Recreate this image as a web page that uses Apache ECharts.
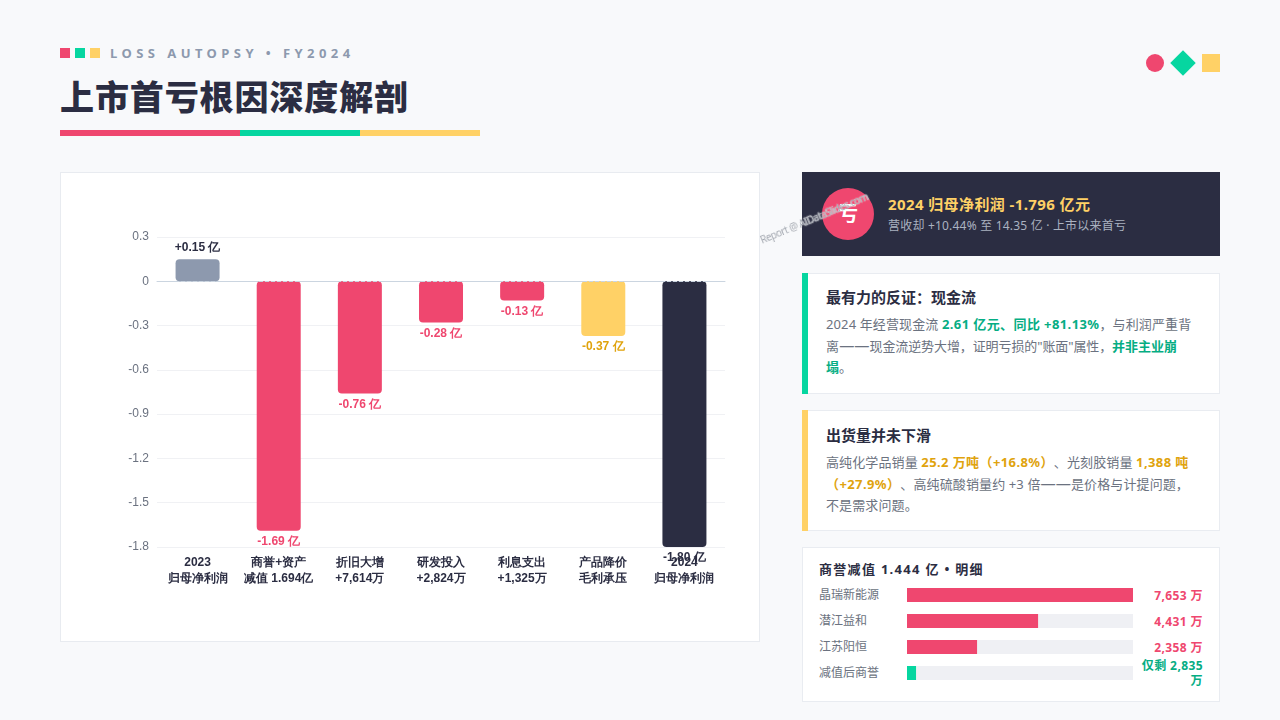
<!DOCTYPE html>
<html lang="zh"><head><meta charset="utf-8">
<script src="https://cdn.jsdelivr.net/npm/echarts@6/dist/echarts.min.js"></script>
<style>
*{box-sizing:border-box;margin:0;padding:0}
html,body{width:1280px;height:720px;overflow:hidden;background:#f8f9fb;font-family:"Noto Sans","Noto Sans CJK SC",sans-serif}
.abs{position:absolute}
.card{position:absolute;left:802px;width:418px;background:#fff;border:1px solid #e9ecf1}
.accent{position:absolute;left:802px;width:6px}
.h{position:absolute;left:826px;font-size:15px;font-weight:700;color:#2b2d42;line-height:22px;white-space:nowrap}
.p{position:absolute;left:826px;width:372px;font-size:13px;line-height:21.5px;color:#6b7280;letter-spacing:.12px;text-spacing-trim:space-all}
.g{color:#05ad83;font-weight:700;letter-spacing:.4px}.y{color:#e0a30d;font-weight:700;letter-spacing:.4px}
.cjk{letter-spacing:0}.dash{font-size:15.2px;letter-spacing:0;line-height:1}.tight{letter-spacing:-.1px}
.rowname{position:absolute;left:819px;font-size:12px;line-height:18px;color:#6b7280;white-space:nowrap}
.rowval{position:absolute;left:1133px;width:70px;text-align:right;font-size:12px;font-weight:700;line-height:15px;letter-spacing:.4px}
</style></head><body>
<div class="abs" style="left:60px;top:48px;width:10px;height:10px;background:#ef476f"></div>
<div class="abs" style="left:75px;top:48px;width:10px;height:10px;background:#06d6a0"></div>
<div class="abs" style="left:90px;top:48px;width:10px;height:10px;background:#ffd166"></div>
<div class="abs" style="left:110px;top:44px;font-size:13px;font-weight:700;letter-spacing:4.44px;color:#8d99ae;line-height:18px;white-space:nowrap">LOSS AUTOPSY • FY2024</div>
<div class="abs" style="left:60px;top:73px;font-size:34px;font-weight:900;letter-spacing:.9px;color:#2b2d42;line-height:48px;white-space:nowrap">上市首亏根因深度解剖</div>
<div class="abs" style="left:60px;top:130px;width:180px;height:6px;background:#ef476f"></div>
<div class="abs" style="left:240px;top:130px;width:120px;height:6px;background:#06d6a0"></div>
<div class="abs" style="left:360px;top:130px;width:120px;height:6px;background:#ffd166"></div>
<div class="abs" style="left:1146px;top:54px;width:18px;height:18px;border-radius:50%;background:#ef476f"></div>
<div class="abs" style="left:1174px;top:54px;width:18px;height:18px;transform:rotate(45deg);background:#06d6a0"></div>
<div class="abs" style="left:1202px;top:54px;width:18px;height:18px;background:#ffd166"></div>

<div class="abs" style="left:60px;top:172px;width:700px;height:470px;background:#fff;border:1px solid #e8ebf0"></div>
<div id="waterfall" class="abs" style="left:60px;top:172px;width:700px;height:470px"></div>

<div class="abs" style="left:802px;top:172px;width:418px;height:84px;background:#2b2d42"></div>
<div class="abs" style="left:822px;top:188px;width:52px;height:52px;border-radius:50%;background:#ef476f;color:#fff;font-size:20px;font-weight:700;line-height:52px;text-align:center">亏</div>
<div class="abs" style="left:888px;top:193px;font-size:15px;font-weight:700;letter-spacing:.4px;color:#ffd166;line-height:22px;white-space:nowrap">2024 归母净利润 -1.796 亿元</div>
<div class="abs" style="left:888px;top:217px;font-size:12px;letter-spacing:.2px;color:#aab2c0;line-height:18px;white-space:nowrap">营收却 +10.44% 至 14.35 亿 · 上市以来首亏</div>

<div class="card" style="top:272.5px;height:121px"></div><div class="accent" style="top:272.5px;height:121px;background:#06d6a0"></div>
<div class="h" style="top:286px">最有力的反证：现金流</div>
<div class="p" style="top:314px">2024 年经营现金流 <span class="g">2.61 亿元、同比 +81.13%</span>，与利润严重背离<span class="dash">——</span><span class="tight">现金流逆势大增，证明亏损的"账面"属性，</span><span class="g cjk">并非主业崩塌</span>。</div>

<div class="card" style="top:409.5px;height:121px"></div><div class="accent" style="top:409.5px;height:121px;background:#ffd166"></div>
<div class="h" style="top:424px">出货量并未下滑</div>
<div class="p" style="top:452px">高纯化学品销量 <span class="y">25.2 万吨（+16.8%）</span>、光刻胶销量 <span class="y">1,388 吨（+27.9%）</span>、高纯硫酸销量约 +3 倍<span class="dash">——</span>是价格与计提问题，不是需求问题。</div>

<div class="card" style="top:546.5px;height:155px"></div>
<div class="abs" style="left:819px;top:559px;font-size:13px;font-weight:700;color:#2b2d42;letter-spacing:1.3px;line-height:20px;white-space:nowrap">商誉减值 1.444 亿 • 明细</div>
<div id="detail" class="abs" style="left:907px;top:582px;width:226px;height:104px"></div>
<div id="rows"></div>

<div class="abs" style="left:749px;top:211px;width:130px;text-align:center;font-size:10px;letter-spacing:-.5px;color:rgba(150,155,165,.9);text-shadow:0 0 1px #fff,0 0 1px #fff;transform:rotate(-22.5deg);white-space:nowrap;line-height:14px">Report @ AIDataSlides.com</div>
<script>
const categories=['2023\n归母净利润','商誉+资产\n减值 1.694亿','折旧大增\n+7,614万','研发投入\n+2,824万','利息支出\n+1,325万','产品降价\n毛利承压','2024\n归母净利润'];
const profitValues=[0.15,-1.69,-0.76,-0.28,-0.13,-0.37,-1.8];
const valueLabels=['+0.15 亿','-1.69 亿','-0.76 亿','-0.28 亿','-0.13 亿','-0.37 亿','-1.80 亿'];
const barColors=['#8d99ae','#ef476f','#ef476f','#ef476f','#ef476f','#ffd166','#2b2d42'];
const labelColors=['#2b2d42','#ef476f','#ef476f','#ef476f','#ef476f','#e0a30d','#2b2d42'];
const detailNames=['晶瑞新能源','潜江益和','江苏阳恒','减值后商誉'];
const detailWidthPct=[100,58,31,4];
const detailLabels=['7,653 万','4,431 万','2,358 万','仅剩 2,835 万'];
const detailColors=['#ef476f','#ef476f','#ef476f','#06d6a0'];
const detailLabelColors=['#ef476f','#ef476f','#ef476f','#05ad83'];

const chart=echarts.init(document.getElementById('waterfall'),null,{renderer:'canvas'});
chart.setOption({
  animation:false,backgroundColor:'transparent',
  grid:{left:97,right:35,top:65,bottom:95},
  xAxis:{type:'category',data:categories,
    axisLine:{show:true,onZero:true,lineStyle:{color:'#cbd5e0'}},axisTick:{show:false},
    axisLabel:{position:'bottom',interval:0,color:'#2b2d42',fontSize:12,fontWeight:700,lineHeight:16,margin:8}},
  yAxis:{type:'value',min:-1.8,max:0.3,interval:0.3,
    axisLine:{show:false},axisTick:{show:false},
    axisLabel:{color:'#6b7280',fontSize:12,margin:8},
    splitLine:{lineStyle:{color:'#f0f1f4'}}},
  series:[{type:'bar',barWidth:44,
    data:profitValues.map((v,i)=>({value:v,
      itemStyle:{color:barColors[i],borderRadius:4},
      label:{show:true,position:v>=0?'top':'bottom',distance:5,formatter:valueLabels[i],color:labelColors[i],fontSize:12,fontWeight:700}})),
    markLine:{silent:true,symbol:'none',label:{show:false},lineStyle:{color:'#cbd5e0',type:'dashed',width:1},data:[{yAxis:0}]}
  }]
});

const detail=echarts.init(document.getElementById('detail'));
detail.setOption({
  animation:false,
  grid:{left:0,right:0,top:0,bottom:0},
  xAxis:{type:'value',min:0,max:100,show:false},
  yAxis:{type:'category',inverse:true,data:detailNames,show:false},
  series:[{type:'bar',barWidth:14,showBackground:true,backgroundStyle:{color:'#eff0f4'},
    data:detailWidthPct.map((v,i)=>({value:v,itemStyle:{color:detailColors[i]}}))}]
});

const rows=document.getElementById('rows');
detailNames.forEach((n,i)=>{
  const cy=595+26*i;
  rows.insertAdjacentHTML('beforeend',`<div class="rowname" style="top:${cy-9}px">${n}</div><div class="rowval" style="top:${i===3?658:cy-7}px;color:${detailLabelColors[i]}">${detailLabels[i]}</div>`);
});
</script>
</body></html>
